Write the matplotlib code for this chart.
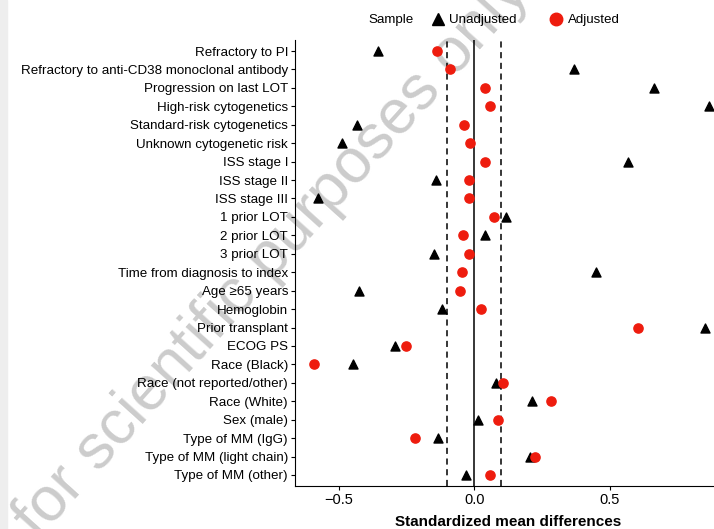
import matplotlib.pyplot as plt
from matplotlib.patches import Rectangle
from matplotlib.lines import Line2D

plt.rcParams['font.family'] = ['Liberation Sans', 'DejaVu Sans']

# covariates, top to bottom
covariates = [
    "Refractory to PI",
    "Refractory to anti-CD38 monoclonal antibody",
    "Progression on last LOT",
    "High-risk cytogenetics",
    "Standard-risk cytogenetics",
    "Unknown cytogenetic risk",
    "ISS stage I",
    "ISS stage II",
    "ISS stage III",
    "1 prior LOT",
    "2 prior LOT",
    "3 prior LOT",
    "Time from diagnosis to index",
    "Age \u226565 years",
    "Hemoglobin",
    "Prior transplant",
    "ECOG PS",
    "Race (Black)",
    "Race (not reported/other)",
    "Race (White)",
    "Sex (male)",
    "Type of MM (IgG)",
    "Type of MM (light chain)",
    "Type of MM (other)",
]

# standardized mean differences
unadjusted = [-0.355, 0.369, 0.663, 0.867, -0.432, -0.488, 0.566, -0.141,
              -0.578, 0.116, 0.039, -0.149, 0.450, -0.425, -0.118, 0.852,
              -0.294, -0.449, 0.080, 0.214, 0.015, -0.133, 0.206, -0.031]
adjusted = [-0.136, -0.090, 0.039, 0.059, -0.037, -0.015, 0.039, -0.021,
            -0.020, 0.073, -0.043, -0.021, -0.044, -0.054, 0.023, 0.605,
            -0.252, -0.592, 0.107, 0.282, 0.089, -0.219, 0.224, 0.057]

threshold = 0.1
red = "#ee1c0e"

fig = plt.figure(figsize=(7.14, 5.29), dpi=100)
ax = fig.add_axes([295 / 714, 1 - 486 / 529, 1 - 295 / 714 + 0.01, (486 - 40) / 529])
ax.patch.set_alpha(0)

ypos = list(range(len(covariates)))

ax.axvline(0, color="black", lw=1.1, zorder=1)
ax.axvline(-threshold, color="black", lw=1.1, ls=(0, (4, 3)), zorder=1)
ax.axvline(threshold, color="black", lw=1.1, ls=(0, (4, 3)), zorder=1)

ax.scatter(unadjusted, ypos, marker="^", s=42, color="black", zorder=3, clip_on=False)
ax.scatter(adjusted, ypos, marker="o", s=44, color=red, zorder=3, clip_on=False)

ax.set_yticks(ypos)
ax.set_yticklabels(covariates, fontsize=9.6)
ax.set_ylim(len(covariates) - 0.4, -0.6)
ax.set_xlim(-0.662, 0.885 + 0.01 * 714 / 419 * 1.547)
ax.set_xticks([-0.5, 0.0, 0.5])
ax.set_xticklabels(["\u22120.5", "0.0", "0.5"], fontsize=10.5)
ax.set_xlabel("Standardized mean differences", fontsize=11, fontweight="bold", labelpad=6)

for side in ["top", "right"]:
    ax.spines[side].set_visible(False)
ax.tick_params(length=3, width=0.8, pad=2)

# legend above the panel
fig.text(368 / 714, 1 - 20 / 529, "Sample", fontsize=9.6, va="center")
handles = [
    Line2D([], [], marker="^", ls="", color="black", markersize=8),
    Line2D([], [], marker="o", ls="", color=red, markersize=9),
]
fig.legend(handles, ["Unadjusted", "Adjusted"], ncol=2, frameon=False,
           loc="center left", bbox_to_anchor=(416 / 714, 1 - 20 / 529),
           fontsize=9.6, handletextpad=0.1, columnspacing=2.2, handlelength=1.5)

# light grey strip on the left edge
fig.patches.append(Rectangle((0, 0), 7 / 714, 1, transform=fig.transFigure,
                             color="#eeeeee", zorder=-2))

# watermark, behind the chart
fig.text(272 / 714, 1 - 256 / 529, "for scientific purposes only", fontsize=45,
         rotation=48, color="#cccccc", ha="center", va="center", zorder=-1)

fig.savefig("out.png", dpi=100)
